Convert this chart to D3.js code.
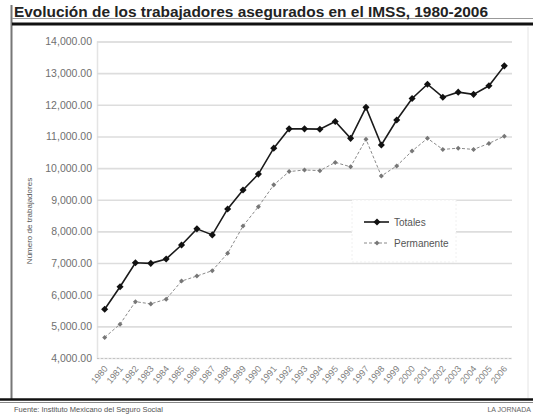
<!DOCTYPE html>
<html>
<head>
<meta charset="utf-8">
<script src="https://cdn.jsdelivr.net/npm/d3@7"></script>
<style>
  body { margin:0; background:#fff; }
  svg { display:block; font-family:"Liberation Sans", Arial, sans-serif; }
</style>
</head>
<body>
<div id="chart"></div>
<script>
let years = ["1980","1981","1982","1983","1984","1985","1986","1987","1988","1989","1990","1991","1992","1993",
             "1994","1995","1996","1997","1998","1999","2000","2001","2002","2003","2004","2005","2006"];
let totales = [5540,6250,7010,6990,7130,7570,8080,7890,8710,9310,9810,10630,11240,11240,
               11230,11470,10940,11920,10730,11520,12200,12650,12240,12400,12330,12600,13230];
let permanente = [4650,5070,5780,5710,5860,6430,6590,6760,7310,8170,8780,9470,9890,9940,
                  9920,10180,10040,10910,9750,10070,10540,10940,10590,10630,10590,10780,11010];
let yTicks = [4000,5000,6000,7000,8000,9000,10000,11000,12000,13000,14000];
let seriesNames = ["Totales","Permanente"];

function render(){
  let width = 533, height = 414;
  let svg = d3.select("#chart").append("svg").attr("width",width).attr("height",height);

  let xScale = d3.scalePoint().domain(years).range([97,512]).padding(0.5);
  let yScale = d3.scaleLinear().domain([4000,14000]).range([358,41.5]);

  // frame
  svg.append("line").attr("x1",11.5).attr("x2",11.5).attr("y1",5).attr("y2",399).attr("stroke","#777").attr("stroke-width",2);
  svg.append("line").attr("x1",528).attr("x2",528).attr("y1",27).attr("y2",398).attr("stroke","#e4e4e4").attr("stroke-width",1);
  svg.append("line").attr("x1",12).attr("x2",533).attr("y1",18.5).attr("y2",18.5).attr("stroke","#999").attr("stroke-width",1);
  svg.append("line").attr("x1",12).attr("x2",533).attr("y1",24).attr("y2",24).attr("stroke","#111").attr("stroke-width",3);
  svg.append("line").attr("x1",0).attr("x2",533).attr("y1",399.5).attr("y2",399.5).attr("stroke","#111").attr("stroke-width",2.5);
  svg.append("line").attr("x1",0).attr("x2",533).attr("y1",402.5).attr("y2",402.5).attr("stroke","#888").attr("stroke-width",1);

  svg.append("text").attr("x",14).attr("y",16.5).text("Evolución de los trabajadores asegurados en el IMSS, 1980-2006")
    .attr("font-size",14).attr("font-weight","bold").attr("fill","#222")
    .attr("textLength",474).attr("lengthAdjust","spacingAndGlyphs");

  svg.append("text").attr("x",14).attr("y",412).text("Fuente: Instituto Mexicano del Seguro Social")
    .attr("font-size",7.5).attr("fill","#555");
  svg.append("text").attr("x",531).attr("y",412).text("LA JORNADA").attr("text-anchor","end")
    .attr("font-size",7).attr("fill","#666");

  // grid
  let g = svg.append("g");
  let yAxis = d3.axisLeft(yScale).tickValues(yTicks).tickSize(-(512-97)).tickPadding(5)
    .tickFormat(d3.format(",.2f"));
  let yGroup = g.append("g").attr("transform","translate(97,0)").call(yAxis);
  yGroup.select(".domain").attr("stroke","#e4e4e4").attr("stroke-width",1.5);
  yGroup.selectAll(".tick line").attr("stroke","#dddddd").attr("stroke-width",1.6);
  yGroup.selectAll(".tick").filter(d => d === 4000).select("line")
    .attr("stroke","#c4c4c4").attr("stroke-width",1).attr("stroke-dasharray","2,2");
  yGroup.selectAll(".tick text").attr("font-size",10.5).attr("fill","#707070")
    .attr("font-family","Liberation Sans, Arial, sans-serif").attr("x",-5);

  let xAxis = d3.axisBottom(xScale).tickSize(0).tickPadding(0);
  let xGroup = g.append("g").attr("transform","translate(0,358)").call(xAxis);
  xGroup.select(".domain").remove();
  xGroup.selectAll(".tick text").attr("font-size",9).attr("fill","#808080")
    .attr("font-family","Liberation Sans, Arial, sans-serif")
    .attr("text-anchor","end").attr("dy",0).attr("y",0)
    .attr("transform","translate(3,11) rotate(-50)");

  svg.append("text").attr("x",-221).attr("y",32).text("Número de trabajadores")
    .attr("transform","rotate(-90)").attr("text-anchor","middle").attr("font-size",8).attr("fill","#555");

  let lineGen = data => d3.line().x((d,i)=>xScale(years[i])).y(d=>yScale(d))(data);
  let diamond = d3.symbol().type(d3.symbolDiamond2);

  g.append("path").attr("d",lineGen(permanente)).attr("fill","none")
    .attr("stroke","#8a8a8a").attr("stroke-width",1).attr("stroke-dasharray","3,2");
  g.selectAll(".perm").data(permanente).enter().append("path").attr("class","perm")
    .attr("d",diamond.size(16)())
    .attr("transform",(d,i)=>`translate(${xScale(years[i])},${yScale(d)})`)
    .attr("fill","#777");

  g.append("path").attr("d",lineGen(totales)).attr("fill","none")
    .attr("stroke","#1a1a1a").attr("stroke-width",1.6);
  g.selectAll(".tot").data(totales).enter().append("path").attr("class","tot")
    .attr("d",diamond.size(32)())
    .attr("transform",(d,i)=>`translate(${xScale(years[i])},${yScale(d)})`)
    .attr("fill","#111");

  // legend
  let legend = svg.append("g").attr("transform","translate(352,200)");
  legend.append("rect").attr("x",0).attr("y",0).attr("width",104).attr("height",62)
    .attr("fill","#fff").attr("stroke","#f0f0f0").attr("stroke-dasharray","2,2");
  seriesNames.forEach((name,i) => {
    let y = 22 + i*21;
    legend.append("line").attr("x1",12).attr("x2",37).attr("y1",y).attr("y2",y)
      .attr("stroke", i ? "#8a8a8a" : "#1a1a1a").attr("stroke-width", i ? 1 : 1.6)
      .attr("stroke-dasharray", i ? "3,2" : null);
    legend.append("path").attr("d",diamond.size(i ? 16 : 32)()).attr("transform",`translate(25,${y})`)
      .attr("fill", i ? "#777" : "#111");
    legend.append("text").attr("x",42).attr("y",y+3.5).text(name).attr("font-size",10).attr("fill","#555");
  });
}

render();
</script>
</body>
</html>
